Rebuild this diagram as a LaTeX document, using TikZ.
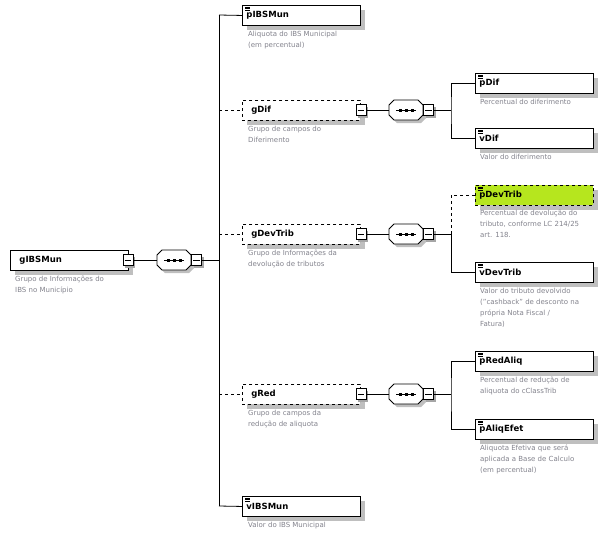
\documentclass[tikz,border=0pt]{standalone}
\usepackage{fontspec}
\setmainfont{DejaVu Sans}
\usetikzlibrary{shadows,positioning,calc}
\definecolor{descgray}{RGB}{130,130,140}
\definecolor{optgreen}{RGB}{182,230,30}

\tikzset{
  box/.style={draw, line width=0.9pt, fill=white, anchor=north west, minimum width=118, minimum height=20,
    text width=110, inner xsep=4, inner ysep=0, align=left, font=\fontsize{8.5}{10}\bfseries,
    general shadow={fill=black!25, shadow xshift=5pt, shadow yshift=-5pt}},
  opt/.style={dashed, line width=0.7pt},
  desc/.style={anchor=north west, inner sep=0, align=left, text=descgray, font=\fontsize{7}{11}\selectfont},
  conn/.style={line width=0.8pt},
  minus/.style={draw, line width=0.8pt, fill=white, minimum width=10, minimum height=11, inner sep=0,
    general shadow={fill=black!35, shadow xshift=2pt, shadow yshift=-2pt}}
}

% element icon
\newcommand{\elicon}[1]{%
  \foreach \k in {2,3.6,5.2} \draw[line width=0.5pt] ($(#1.north west)+(3,\k)$) -- ++(5,0);}
% minus box on a node
\newcommand{\minusbox}[2]{%
  \node[minus] (#1) at (#2) {};
  \draw[line width=0.7pt] ($(#1.west)+(2,0)$) -- ($(#1.east)+(-2,0)$);}
% sequence compositor: name, left x, centre y
\newcommand{\seqnode}[3]{%
  \fill[black!25] (#2+5+3,#3-10+3) -- (#2+34-5+3,#3-10+3) -- (#2+34+3,#3-5+3) -- (#2+34+3,#3+5+3)
     -- (#2+34-5+3,#3+10+3) -- (#2+5+3,#3+10+3) -- (#2+3,#3+5+3) -- (#2+3,#3-5+3) -- cycle;
  \draw[line width=0.8pt, fill=white] (#2+5,#3-10) -- (#2+34-5,#3-10) -- (#2+34,#3-5) -- (#2+34,#3+5)
     -- (#2+34-5,#3+10) -- (#2+5,#3+10) -- (#2,#3+5) -- (#2,#3-5) -- cycle;
  \coordinate (#1in) at (#2,#3);
  \draw[line width=0.8pt] (#2+7,#3) -- (#2+27,#3);
  \foreach \d in {-6,0,6} \fill (#2+17+\d-1.5,#3-1.5) rectangle ++(3,3);
  \minusbox{#1m}{#2+39.5,#3}
  \coordinate (#1out) at (#1m.east);}

\begin{document}
\begin{tikzpicture}[x=1pt,y=-1pt]
\useasboundingbox (0,0) rectangle (608,547);

% root
\node[box] (gIBSMun) at (10,250) {\hspace*{5pt}gIBSMun};
\minusbox{gIBSMunm}{128,260}
\node[desc] at (15,276) {Grupo de Informações do\\IBS no Município};
\seqnode{sA}{157}{260}
\draw[conn] (gIBSMunm.east) -- (sAin);
\coordinate (tA) at (219,260);
\draw[conn] (sAout) -- (tA);
\coordinate (tTop) at (219,15);
\coordinate (tBot) at (219,506);
\draw[conn] (tTop) -- (tBot);

% first level
\node[box] (pIBSMun) at (242,5) {pIBSMun}; \elicon{pIBSMun}
\node[desc] at (248,31) {Aliquota do IBS Municipal\\(em percentual)};
\draw[conn] (tTop) -- (pIBSMun.west);

\node[box, opt] (gDif) at (242,100) {\hspace*{5pt}gDif};
\minusbox{gDifm}{361,110}
\node[desc] at (248,126) {Grupo de campos do\\Diferimento};
\draw[conn, opt] (tA|-gDif.west) -- (gDif.west);

\node[box, opt] (gDevTrib) at (242,224) {\hspace*{5pt}gDevTrib};
\minusbox{gDevTribm}{361,234}
\node[desc] at (248,250) {Grupo de Informações da\\devolução de tributos};
\draw[conn, opt] (tA|-gDevTrib.west) -- (gDevTrib.west);

\node[box, opt] (gRed) at (242,384) {\hspace*{5pt}gRed};
\minusbox{gRedm}{361,394}
\node[desc] at (248,410) {Grupo de campos da\\redução de aliquota};
\draw[conn, opt] (tA|-gRed.west) -- (gRed.west);

\node[box] (vIBSMun) at (242,496) {vIBSMun}; \elicon{vIBSMun}
\node[desc] at (248,522) {Valor do IBS Municipal};
\draw[conn] (tBot) -- (vIBSMun.west);

% gDif children
\seqnode{sB}{389}{110}
\draw[conn] (gDifm.east) -- (sBin);
\node[box] (pDif) at (475,73) {pDif}; \elicon{pDif}
\node[desc] at (480,99) {Percentual do diferimento};
\node[box] (vDif) at (475,128) {vDif}; \elicon{vDif}
\node[desc] at (480,154) {Valor do diferimento};
\draw[conn] (sBout) -- (451,110);
\draw[conn] (pDif.west) -| (451,110) |- (vDif.west);

% gDevTrib children
\seqnode{sC}{389}{234}
\draw[conn] (gDevTribm.east) -- (sCin);
\node[box, opt, fill=optgreen] (pDevTrib) at (475,185) {pDevTrib}; \elicon{pDevTrib}
\node[desc] at (480,210) {Percentual de devolução do\\tributo, conforme LC 214/25\\art. 118.};
\node[box] (vDevTrib) at (475,262) {vDevTrib}; \elicon{vDevTrib}
\node[desc] at (480,288) {Valor do tributo devolvido\\("cashback" de desconto na\\própria Nota Fiscal /\\Fatura)};
\draw[conn] (sCout) -- (451,234);
\draw[conn, opt] (pDevTrib.west) -| (451,234);
\draw[conn] (451,234) |- (vDevTrib.west);

% gRed children
\seqnode{sD}{389}{394}
\draw[conn] (gRedm.east) -- (sDin);
\node[box] (pRedAliq) at (475,351) {pRedAliq}; \elicon{pRedAliq}
\node[desc] at (480,377) {Percentual de redução de\\aliquota do cClassTrib};
\node[box] (pAliqEfet) at (475,419) {pAliqEfet}; \elicon{pAliqEfet}
\node[desc] at (480,445) {Aliquota Efetiva que será\\aplicada a Base de Calculo\\(em percentual)};
\draw[conn] (sDout) -- (451,394);
\draw[conn] (pRedAliq.west) -| (451,394) |- (pAliqEfet.west);
\end{tikzpicture}
\end{document}
